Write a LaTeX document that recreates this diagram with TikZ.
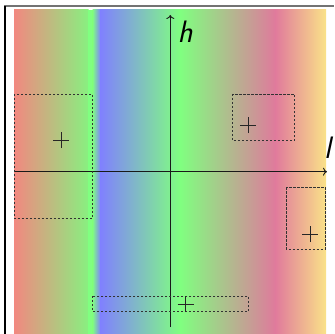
\documentclass[tikz,border=0pt]{standalone}
\usetikzlibrary{arrows.meta}
\definecolor{cSalmon}{RGB}{242,136,128}
\definecolor{cGreen}{RGB}{128,255,128}
\definecolor{cGreenB}{RGB}{136,240,128}
\definecolor{cBlue}{RGB}{128,128,255}
\definecolor{cPink}{RGB}{224,122,156}
\definecolor{cYellow}{RGB}{250,226,136}
\definecolor{axisC}{RGB}{25,25,25}
\tikzset{
  region/.style={draw=black!80, line width=0.8pt, dash pattern=on 2.3pt off 1.7pt},
  axisline/.style={draw=axisC, line width=0.9pt, -{To[length=4pt,width=8pt]}},
  pluscross/.style={draw=black!85, line width=1pt},
  axlabel/.style={font=\fontsize{31}{31}\selectfont\sffamily\itshape, inner sep=0pt}
}
\begin{document}
\begin{tikzpicture}[x=1pt,y=-1pt]
\useasboundingbox (0,0) rectangle (334,334);
\fill[white] (0,0) rectangle (334,334);
% frame lines
\draw[black!55, line width=1.6pt] (4,6) -- (334,6);
\draw[black, line width=1.4pt] (5,6) -- (5,334);
% gradient background
\shade[left color=cSalmon, right color=cGreenB] (14,10) rectangle (88.5,334);
\fill[cGreen] (88,10) rectangle (93,334);
\shade[left color=cGreen, right color=cBlue] (92.5,10) rectangle (100.5,334);
\shade[left color=cBlue, right color=cGreen] (100,10) rectangle (180.5,334);
\shade[left color=cGreen, right color=cPink] (180,10) rectangle (275.5,334);
\shade[left color=cPink, right color=cYellow] (275,10) rectangle (326,334);
% named points
\coordinate (xs) at (14,171.7);
\coordinate (xe) at (327,171.7);
\coordinate (ys) at (170.3,327);
\coordinate (ye) at (170.3,15);
% axes
\draw[axisline] (xs) -- (xe);
\draw[axisline] (ys) -- (ye);
\node[axlabel] (hl) at (185,31.5) {h};
\node[axlabel] (ll) at (327.5,148) {l};
% regions
\draw[region] (14,94) rectangle (92.3,218.3);
\draw[region] (232.3,94) rectangle (294.7,140.3);
\draw[region] (286.3,187.3) rectangle (325.3,249);
\draw[region] (92.7,296) rectangle (248.3,311.7);
% plus markers
\foreach \px/\py/\nm in {61/140/p1, 248/125/p2, 310/234/p3, 185.5/304/p4}{
  \coordinate (\nm) at (\px,\py);
  \draw[pluscross] ([xshift=-8pt]\nm) -- ([xshift=8pt]\nm);
  \draw[pluscross] ([yshift=-8pt]\nm) -- ([yshift=8pt]\nm);
}
\end{tikzpicture}
\end{document}
